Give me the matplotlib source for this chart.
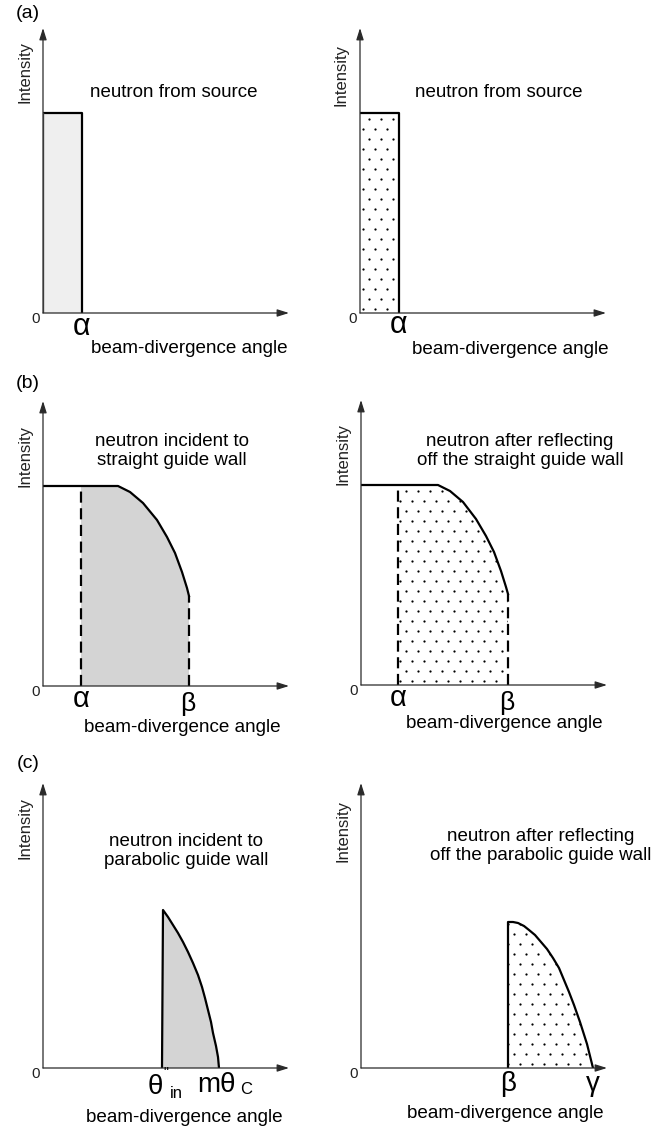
import numpy as np
import matplotlib
matplotlib.use("Agg")
import matplotlib.pyplot as plt
from matplotlib.patches import Polygon

plt.rcParams['font.family'] = ['Liberation Sans', 'DejaVu Sans']

# figure size in pixels (dpi 100)
FW, FH = 672, 1129
AW, AH = 246, 285   # axis length (x arrow, y arrow) in px units

# ---- data (px from each panel origin) ----

# (a) source distribution: flat box up to alpha
a_alpha = 39
a_height = 200

# (b) after straight guide: plateau then fall-off, cut at alpha and beta
b_left_x = [0, 75, 87, 100, 114, 124, 132, 139, 144, 146]
b_left_y = [200, 200, 194, 183, 166, 149, 133, 114, 98, 90]
b_left_alpha = 38
b_right_x = [0, 77, 89, 102, 115, 125, 133, 140, 145, 147]
b_right_y = [200, 200, 194, 183, 166, 149, 133, 114, 98, 91]
b_right_alpha = 37

# (c) parabolic guide: narrow lobe
c_left_x = [119, 120, 125, 130, 135, 140, 145, 150, 155, 159, 162, 165, 168, 170, 173, 175, 176]
c_left_y = [0, 158, 151, 143, 135, 126, 116, 105, 93, 81, 70, 58, 46, 35, 22, 11, 0]
c_right_x = [147, 147, 152, 157, 163, 168, 174, 180, 186, 192, 198, 203, 208, 213, 219, 226, 229, 232]
c_right_y = [0, 146, 146, 145, 142, 138, 133, 126, 119, 110, 100, 88, 76, 63, 46, 24, 12, 0]

titles = ["neutron from source", "neutron from source",
          "neutron incident to\nstraight guide wall",
          "neutron after reflecting\noff the straight guide wall",
          "neutron incident to\nparabolic guide wall",
          "neutron after reflecting\noff the parabolic guide wall"]

fig = plt.figure(figsize=(FW / 100, FH / 100), dpi=100)


def make_ax(ox, oy):
    ax = fig.add_axes([ox / FW, 1 - oy / FH, AW / FW, AH / FH])
    ax.set_xlim(0, AW)
    ax.set_ylim(0, AH)
    ax.axis('off')
    arrow = dict(arrowstyle='-|>,head_length=0.7,head_width=0.22', color='#2a2a2a',
                 lw=0.9, shrinkA=0, shrinkB=0)
    ax.annotate('', xy=(AW, 0), xytext=(0, 0), arrowprops=arrow, annotation_clip=False)
    ax.annotate('', xy=(0, AH), xytext=(0, 0), arrowprops=arrow, annotation_clip=False)
    return ax


def dots(ax, patch):
    # sparse staggered dot texture clipped to the shape
    xs, ys = [], []
    for i, yy in enumerate(np.arange(4, AH, 10)):
        off = 0 if i % 2 == 0 else 6
        for xx in np.arange(3 + off, AW, 12):
            xs.append(xx)
            ys.append(yy)
    sc = ax.scatter(xs, ys, s=2.6, c='black', linewidths=0, zorder=2)
    sc.set_clip_path(patch)


def common(ax, title, tpos, lpos, ipos):
    ax.text(tpos[0], tpos[1], title, ha='center', va='center', fontsize=13.5,
            linespacing=1.1)
    ax.text(lpos[0], lpos[1], "beam-divergence angle", ha='center', va='center',
            fontsize=13.6)
    ax.text(ipos[0], ipos[1], "Intensity", ha='center', va='center', rotation=90,
            fontsize=12, color='#222')
    ax.text(-7, -6, "0", ha='center', va='center', fontsize=11, color='#222')


lw = 1.6
gray = '#d4d4d4'

# ---------------- (a) ----------------
ax = make_ax(43, 313)
ax.fill_between([0, a_alpha], 0, a_height, color='#efefef', lw=0)
ax.plot([0, a_alpha, a_alpha], [a_height, a_height, 0], color='black', lw=lw)
ax.plot([0, 0], [0, a_height], color='#555', lw=1.0)
ax.text(a_alpha, -14, "α", ha='center', va='center', fontsize=22)
common(ax, titles[0], (131, 220), (146, -36), (-18, 241))

ax = make_ax(360, 313)
p = Polygon([(0, 0), (0, a_height), (a_alpha, a_height), (a_alpha, 0)],
            closed=True, fc='none', ec='none')
ax.add_patch(p)
dots(ax, p)
ax.plot([0, a_alpha, a_alpha], [a_height, a_height, 0], color='black', lw=lw)
ax.text(a_alpha, -12, "α", ha='center', va='center', fontsize=22)
common(ax, titles[1], (139, 220), (150, -37), (-19, 238))

# ---------------- (b) ----------------
dash = (0, (5, 2.5))
for k, (ox, oy, bx, by, al) in enumerate([(43, 686, b_left_x, b_left_y, b_left_alpha),
                                          (361, 685, b_right_x, b_right_y, b_right_alpha)]):
    ax = make_ax(ox, oy)
    bx = np.array(bx, float)
    by = np.array(by, float)
    keep = bx > al
    poly = [(al, 0), (al, by[0])] + list(zip(bx[keep], by[keep])) + [(bx[-1], 0)]
    if k == 0:
        p = Polygon(poly, closed=True, fc=gray, ec='none')
        ax.add_patch(p)
    else:
        p = Polygon(poly, closed=True, fc='none', ec='none')
        ax.add_patch(p)
        dots(ax, p)
    ax.plot(bx, by, color='black', lw=lw, solid_joinstyle='round')
    ax.plot([al, al], [0, by[0]], color='black', lw=lw, ls=dash)
    ax.plot([bx[-1], bx[-1]], [0, by[-1]], color='black', lw=lw, ls=dash)
    ax.text(al, -13, "α", ha='center', va='center', fontsize=21)
    ax.text(bx[-1] - 1, -18, "β", ha='center', va='center', fontsize=19)
    if k == 0:
        common(ax, titles[2], (129, 235), (139, -42), (-18, 230))
    else:
        common(ax, titles[3], (159, 234), (143, -38), (-18, 231))

# ---------------- (c) ----------------
ax = make_ax(43, 1068)
p = Polygon(list(zip(c_left_x, c_left_y)), closed=True, fc=gray, ec='none')
ax.add_patch(p)
ax.plot(c_left_x, c_left_y, color='black', lw=lw, solid_joinstyle='round')
ax.text(c_left_x[0] - 7, -19, "θ", ha='center', va='center', fontsize=20)
ax.text(c_left_x[0] + 4, -5, '"', ha='center', va='center', fontsize=10)
ax.text(c_left_x[0] + 14, -25, "in", ha='center', va='center', fontsize=12)
ax.text(c_left_x[-1] - 22, -17, "mθ", ha='left', va='center', fontsize=20)
ax.text(c_left_x[-1] + 21, -22, "C", ha='left', va='center', fontsize=12)
common(ax, titles[4], (143, 217), (141, -49), (-18, 240))

ax = make_ax(361, 1068)
p = Polygon(list(zip(c_right_x, c_right_y)), closed=True, fc='none', ec='none')
ax.add_patch(p)
dots(ax, p)
ax.plot(c_right_x, c_right_y, color='black', lw=lw, solid_joinstyle='round')
ax.text(c_right_x[0], -16, "β", ha='center', va='center', fontsize=20)
ax.text(c_right_x[-1], -16, "γ", ha='center', va='center', fontsize=20)
common(ax, titles[5], (180, 222), (144, -45), (-18, 237))

# panel letters
for lab, py in [("(a)", 13), ("(b)", 383), ("(c)", 763)]:
    fig.text(28 / FW, 1 - py / FH, lab, ha='center', va='center', fontsize=14)

fig.savefig("out.png", dpi=100, facecolor='white')
